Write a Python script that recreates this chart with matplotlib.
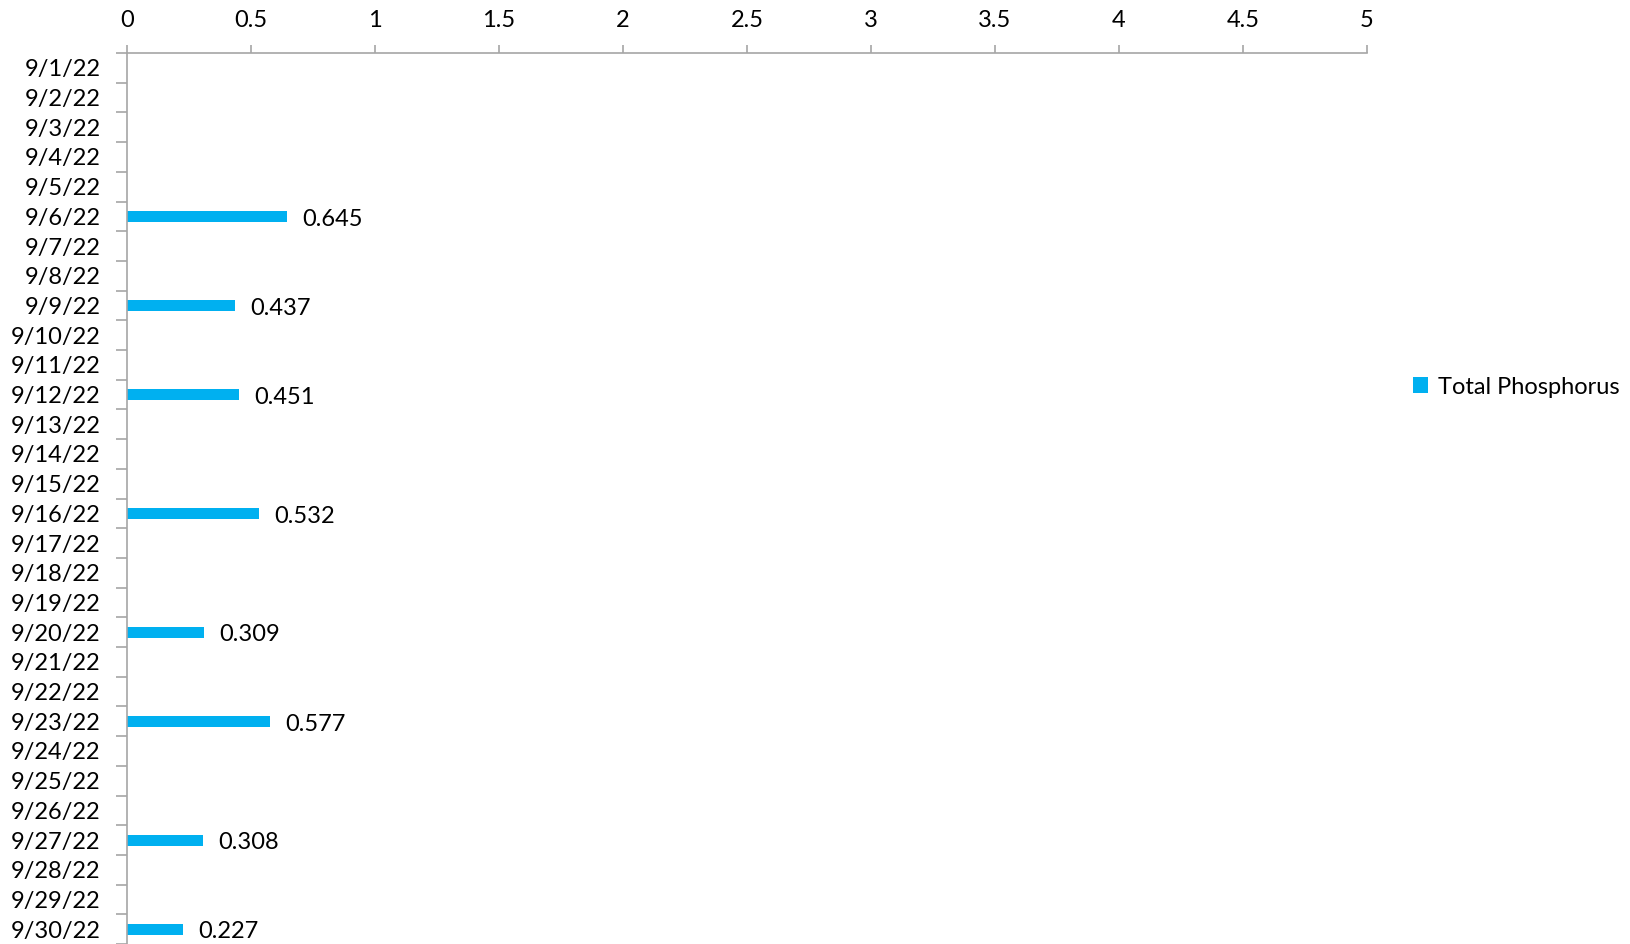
import matplotlib
matplotlib.use("Agg")
import matplotlib.pyplot as plt
import numpy as np

plt.rcParams['font.family'] = ['Lato', 'DejaVu Sans']

# dates in September 2022, top to bottom
dates = ['9/%d/22' % d for d in range(1, 31)]
sample_dates = ['9/6/22', '9/9/22', '9/12/22', '9/16/22',
                '9/20/22', '9/23/22', '9/27/22', '9/30/22']
phosphorus = [0.645, 0.437, 0.451, 0.532, 0.309, 0.577, 0.308, 0.227]

bar_color = '#00B0F0'
axis_color = '#A6A6A6'

fig = plt.figure(figsize=(16.3, 9.44), dpi=100)
ax = fig.add_axes([127 / 1630, 0.0, 1240 / 1630, 1 - 53 / 944])

pos = {d: i for i, d in enumerate(dates)}
ypos = [pos[d] for d in sample_dates]
bars = ax.barh(ypos, phosphorus, height=0.37, color=bar_color,
               label='Total Phosphorus')
for b, v in zip(bars, phosphorus):
    ax.annotate('%g' % v, (v, b.get_y() + b.get_height() / 2),
                xytext=(11, -2), textcoords='offset points',
                ha='left', va='center', fontsize=17, color='black')

ax.set_xlim(0, 5)
ax.set_ylim(len(dates) - 0.5, -0.5)

ax.xaxis.tick_top()
ax.set_xticks(np.arange(0, 5.01, 0.5))
ax.set_xticklabels(['%g' % v for v in np.arange(0, 5.01, 0.5)])
ax.tick_params(axis='x', length=6, width=1.2, color=axis_color,
               labelsize=17, pad=10)

# labels centred on the categories, ticks on the boundaries
ax.set_yticks(range(len(dates)))
ax.set_yticklabels(dates)
ax.set_yticks(np.arange(-0.5, len(dates), 1), minor=True)
ax.tick_params(axis='y', which='major', length=0, labelsize=17, pad=19)
ax.tick_params(axis='y', which='minor', length=8, width=1.2, color=axis_color)

for s in ['right', 'bottom']:
    ax.spines[s].set_visible(False)
for s in ['top', 'left']:
    ax.spines[s].set_color(axis_color)
    ax.spines[s].set_linewidth(1.2)

ax.legend(loc='center left', bbox_to_anchor=(1.02, 0.625), frameon=False,
          fontsize=17, handlelength=0.65, handleheight=0.65, handletextpad=0.4)

fig.savefig('out.png', dpi=100)
